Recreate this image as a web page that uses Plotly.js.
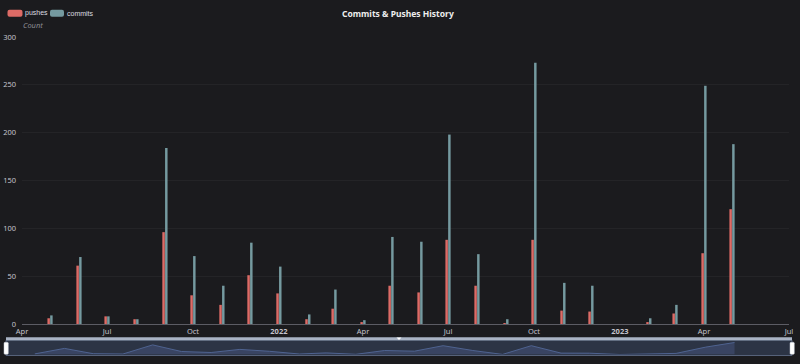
<!DOCTYPE html>
<html>
<head>
<meta charset="utf-8">
<script src="https://cdn.plot.ly/plotly-3.0.1.min.js"></script>
<style>
html,body{margin:0;padding:0;background:#1b1b1e;}
#chart{width:800px;height:364px;}
</style>
</head>
<body>
<div id="chart"></div>
<script>
// ---- data ----
const months = ['2021-05-01','2021-06-01','2021-07-01','2021-08-01','2021-09-01','2021-10-01','2021-11-01','2021-12-01',
  '2022-01-01','2022-02-01','2022-03-01','2022-04-01','2022-05-01','2022-06-01','2022-07-01','2022-08-01','2022-09-01',
  '2022-10-01','2022-11-01','2022-12-01','2023-01-01','2023-02-01','2023-03-01','2023-04-01','2023-05-01'];
const pushes  = [6, 61, 8, 5, 96, 30, 20, 51, 32, 5, 16, 2, 40, 33, 88, 40, 1, 88, 14, 13, 0, 2, 11, 74, 120];
const commits = [9, 70, 8, 5, 184, 71, 40, 85, 60, 10, 36, 4, 91, 86, 198, 73, 5, 273, 43, 40, 0, 6, 20, 249, 188];
const tickVals = ['2021-04-01','2021-07-01','2021-10-01','2022-01-01','2022-04-01','2022-07-01','2022-10-01','2023-01-01','2023-04-01','2023-07-01'];
const tickText = ['Apr','Jul','Oct','<b>2022</b>','Apr','Jul','Oct','<b>2023</b>','Apr','Jul'];
const xRange = ['2021-04-01','2023-07-01'];
const yTicks = [0, 50, 100, 150, 200, 250, 300];

// ---- layout helpers (pixel -> paper) ----
const L = 6, R = 7, T = 37, B = 8, W = 800, H = 364;
const pw = W - L - R, ph = H - T - B;
const px = x => (x - L) / pw;
const py = y => (H - B - y) / ph;

const FONT = '"Noto Sans", "Open Sans", sans-serif';
const LFONT = '"Liberation Sans", Arial, sans-serif';
const red = '#dd6b66', teal = '#759aa0';

const traces = [
  {type:'bar', name:'pushes', x:months, y:pushes, marker:{color:red}, xaxis:'x', yaxis:'y', hoverinfo:'x+y+name'},
  {type:'bar', name:'commits', x:months, y:commits, marker:{color:teal}, xaxis:'x', yaxis:'y', hoverinfo:'x+y+name'},
  {type:'scatter', mode:'lines', x:months, y:pushes, xaxis:'x2', yaxis:'y2', fill:'tozeroy',
   line:{color:'#4f6390', width:1}, fillcolor:'rgba(66,80,118,0.6)', hoverinfo:'skip'}
];

function rrect(x0, y0, x1, y1, r) {
  const X = v => px(v), Y = v => py(v);
  return `M${X(x0+r)},${Y(y0)} L${X(x1-r)},${Y(y0)} Q${X(x1)},${Y(y0)} ${X(x1)},${Y(y0+r)} L${X(x1)},${Y(y1-r)} Q${X(x1)},${Y(y1)} ${X(x1-r)},${Y(y1)} L${X(x0+r)},${Y(y1)} Q${X(x0)},${Y(y1)} ${X(x0)},${Y(y1-r)} L${X(x0)},${Y(y0+r)} Q${X(x0)},${Y(y0)} ${X(x0+r)},${Y(y0)} Z`;
}

const shapes = [
  {type:'rect', xref:'paper', yref:'paper', x0:px(6), x1:px(792), y0:py(355.5), y1:py(340.3),
   fillcolor:'#2c3445', line:{color:'#56627a', width:1}, layer:'below'},
  {type:'rect', xref:'paper', yref:'paper', x0:px(6), x1:px(792), y0:py(340.3), y1:py(337.3),
   fillcolor:'#a9b3c4', line:{width:0}},
  {type:'path', xref:'paper', yref:'paper', path:`M${px(396.5)},${py(337.6)} L${px(401.5)},${py(337.6)} L${px(399)},${py(340)} Z`,
   fillcolor:'#ffffff', line:{width:0}},
  {type:'path', xref:'paper', yref:'paper', path:rrect(4, 342.3, 8.3, 354.3, 1), fillcolor:'#ffffff', line:{color:'#c0c6d2', width:0.5}},
  {type:'path', xref:'paper', yref:'paper', path:rrect(790, 342.3, 794.3, 354.3, 1), fillcolor:'#ffffff', line:{color:'#c0c6d2', width:0.5}},
  {type:'path', xref:'paper', yref:'paper', path:rrect(7.5, 9.8, 22.5, 16.8, 2), fillcolor:red, line:{width:0}},
  {type:'path', xref:'paper', yref:'paper', path:rrect(50, 9.8, 64, 16.8, 2), fillcolor:teal, line:{width:0}}
];

const annotations = [
  {xref:'paper', yref:'paper', x:px(397.5), y:py(13), text:'<b>Commits & Pushes History</b>', showarrow:false,
   xanchor:'center', yanchor:'middle', font:{family:FONT, size:8.5, color:'#eeeeee'}},
  {xref:'paper', yref:'paper', x:px(22.5), y:py(13), text:'pushes', showarrow:false,
   xanchor:'left', yanchor:'middle', font:{family:LFONT, size:7, color:'#dcdce0'}},
  {xref:'paper', yref:'paper', x:px(64.5), y:py(13), text:'commits', showarrow:false,
   xanchor:'left', yanchor:'middle', font:{family:LFONT, size:7, color:'#dcdce0'}},
  {xref:'paper', yref:'paper', x:px(20.5), y:py(24.5), text:'<i>Count</i>', showarrow:false,
   xanchor:'left', yanchor:'middle', font:{family:FONT, size:7.5, color:'#8a8a90'}}
];

const layout = {
  width: W, height: H,
  margin: {l:L, r:R, t:T, b:B, pad:0},
  paper_bgcolor:'#1b1b1e', plot_bgcolor:'#1b1b1e',
  showlegend:false,
  barmode:'group', bargap:0.79, bargroupgap:0.1,
  font:{family:FONT, size:8, color:'#b9b8c4'},
  xaxis:{type:'date', domain:[px(22), px(789)], range:xRange, anchor:'y',
    tickvals:tickVals, ticktext:tickText, ticks:'', showgrid:false, zeroline:false,
    showline:true, linecolor:'#5c5c64', linewidth:1, tickfont:{family:FONT, size:7.5, color:'#c4c3cc'}, fixedrange:true},
  yaxis:{domain:[py(324), 1], range:[0, 300], tickvals:yTicks, anchor:'x',
    showgrid:true, gridcolor:'#242427', gridwidth:1, zeroline:false, showline:false, ticks:'',
    tickfont:{family:FONT, size:7.5, color:'#c4c3cc'}, ticklabelstandoff:5, fixedrange:true},
  xaxis2:{type:'date', domain:[0, 1], range:xRange, anchor:'y2', visible:false, fixedrange:true},
  yaxis2:{domain:[py(354.5), py(342)], range:[0, 125], anchor:'x2', visible:false, fixedrange:true},
  shapes: shapes,
  annotations: annotations
};

Plotly.newPlot('chart', traces, layout, {displayModeBar:false, staticPlot:true});
</script>
</body>
</html>
